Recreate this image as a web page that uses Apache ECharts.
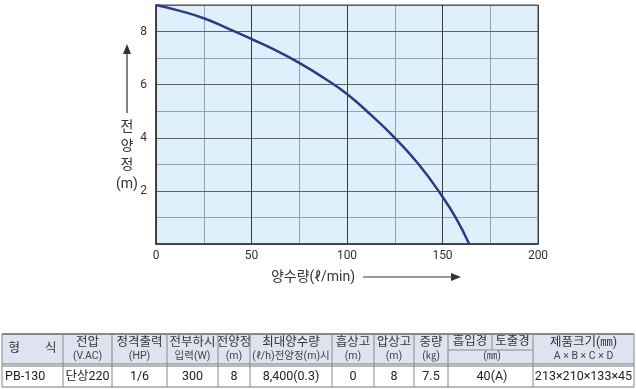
<!DOCTYPE html>
<html><head><meta charset="utf-8">
<script src="https://cdn.jsdelivr.net/npm/echarts@6/dist/echarts.min.js"></script>
<style>html,body{margin:0;padding:0;background:#fff}#c{width:636px;height:389px}</style>
</head><body><div id="c"></div>
<script>
// ---- data ----
const flow = [0, 12.5, 25, 37.5, 50, 62.5, 75, 87.5, 100, 112.5, 125, 137.5, 150, 157, 164];
const head = [9, 8.78, 8.5, 8.12, 7.72, 7.3, 6.82, 6.27, 5.65, 4.86, 4.0, 3.0, 1.78, 0.98, 0];
const xTicks = [0, 50, 100, 150, 200];
const yTicks = [2, 4, 6, 8];
const headerMain = ['형　　식', '전압', '정격출력', '전부하시', '전양정', '최대양수량', '흡상고', '압상고', '중량', '흡입경', '토출경', '제품크기(㎜)'];
const headerSub = ['', '(V.AC)', '(HP)', '입력(W)', '(m)', '(ℓ/h)전양정(m)시', '(m)', '(m)', '(㎏)', '(㎜)', '', 'A × B × C × D'];
const rowValues = ['PB-130', '단상220', '1/6', '300', '8', '8,400(0.3)', '0', '8', '7.5', '40(A)', '', '213×210×133×45'];

// ---- layout ----
const FONT = 'Roboto, "Noto Sans CJK KR", sans-serif';
const colEdges = [2, 63, 112, 167, 218, 250, 332, 374, 414, 448, 492, 533, 634];
const tTop = 334, tMid = 364, tBot = 387;

const chart = echarts.init(document.getElementById('c'));
const g = [];
// axis names + arrows
g.push({type:'text', style:{text:'전\n양\n정\n(m)', x:127, y:118, align:'center', verticalAlign:'top', lineHeight:19, fill:'#333', font:'14px ' + FONT}});
g.push({type:'line', shape:{x1:127, y1:113, x2:127, y2:52}, style:{stroke:'#333', lineWidth:1.2}});
g.push({type:'polygon', shape:{points:[[127,44],[123,54],[131,54]]}, style:{fill:'#333'}});
g.push({type:'text', style:{text:'양수량(ℓ/min)', x:313, y:277, align:'center', verticalAlign:'middle', fill:'#333', font:'14px ' + FONT}});
g.push({type:'line', shape:{x1:363, y1:277, x2:452, y2:277}, style:{stroke:'#333', lineWidth:1.2}});
g.push({type:'polygon', shape:{points:[[461,277],[451,273],[451,281]]}, style:{fill:'#333'}});

// table
g.push({type:'rect', shape:{x:colEdges[0], y:tTop, width:colEdges[12]-colEdges[0], height:tMid-tTop}, style:{fill:'#dde4ef'}});
const cx = i => (colEdges[i] + colEdges[i+1]) / 2;
const HF = '12.5px ' + FONT, SF = '10.5px ' + FONT, DF = '12.5px ' + FONT;
for (let i = 0; i < headerMain.length; i++) {
  if (i === 0) {
    g.push({type:'text', style:{text:headerMain[i], x:cx(i), y:(tTop+tMid)/2, align:'center', verticalAlign:'middle', fill:'#333', font:HF}});
  } else if (i === 9 || i === 10) {
    g.push({type:'text', style:{text:headerMain[i], x:cx(i), y:tTop+7.5, align:'center', verticalAlign:'middle', fill:'#333', font:HF}});
  } else {
    g.push({type:'text', style:{text:headerMain[i], x:cx(i), y:tTop+8.5, align:'center', verticalAlign:'middle', fill:'#333', font:HF}});
    g.push({type:'text', style:{text:headerSub[i], x:cx(i), y:tTop+22, align:'center', verticalAlign:'middle', fill:'#444', font:SF}});
  }
}
g.push({type:'text', style:{text:headerSub[9], x:colEdges[10], y:tTop+22, align:'center', verticalAlign:'middle', fill:'#444', font:SF}});
for (let i = 0; i < rowValues.length; i++) {
  if (i === 10) continue;
  let x = cx(i), align = 'center';
  if (i === 0) { x = colEdges[0] + 3; align = 'left'; }
  if (i === 9) x = colEdges[10];
  g.push({type:'text', style:{text:rowValues[i], x:x, y:(tMid+tBot)/2+1, align:align, verticalAlign:'middle', fill:'#222', font:DF}});
}
// borders
g.push({type:'line', shape:{x1:colEdges[0], y1:tTop, x2:colEdges[12], y2:tTop}, style:{stroke:'#666', lineWidth:1.5}});
g.push({type:'line', shape:{x1:colEdges[0], y1:tMid, x2:colEdges[12], y2:tMid}, style:{stroke:'#777', lineWidth:1}});
g.push({type:'line', shape:{x1:colEdges[0], y1:tMid+2, x2:colEdges[12], y2:tMid+2}, style:{stroke:'#777', lineWidth:1}});
g.push({type:'line', shape:{x1:colEdges[0], y1:tBot, x2:colEdges[12], y2:tBot}, style:{stroke:'#777', lineWidth:1}});
g.push({type:'line', shape:{x1:colEdges[9], y1:(tTop+tMid)/2+1, x2:colEdges[11], y2:(tTop+tMid)/2+1}, style:{stroke:'#888', lineWidth:1}});
for (let i = 0; i < colEdges.length; i++) {
  const isInner = i === 10;
  g.push({type:'line', shape:{x1:colEdges[i], y1:tTop, x2:colEdges[i], y2:isInner ? (tTop+tMid)/2+1 : tBot}, style:{stroke:'#888', lineWidth:1}});
}

const minorLine = {show:true, lineStyle:{color:'#93a2ad', width:1}};
chart.setOption({
  animation: false,
  textStyle: {fontFamily: FONT},
  grid: {left:156, right:98, top:5, bottom:145, show:true, backgroundColor:'#def0fb', borderColor:'#444', borderWidth:1},
  xAxis: [{
    type:'value', min:0, max:200, interval:50, z:3,
    axisLine:{show:true, lineStyle:{color:'#333', width:1.5}},
    axisTick:{show:false},
    axisLabel:{color:'#333', fontSize:12, margin:6, formatter: v => xTicks.includes(v) ? String(v) : ''},
    splitLine:{show:true, lineStyle:{color:'#3a3a3a', width:1}}
  }, {
    type:'value', min:0, max:200, interval:25, position:'top', z:1,
    axisLine:{show:false}, axisTick:{show:false}, axisLabel:{show:false},
    splitLine: minorLine
  }],
  yAxis: [{
    type:'value', min:0, max:9, interval:2, z:3,
    axisLine:{show:true, lineStyle:{color:'#333', width:1.5}},
    axisTick:{show:false},
    axisLabel:{color:'#333', fontSize:12, margin:9, formatter: v => yTicks.includes(v) ? String(v) : ''},
    splitLine:{show:true, lineStyle:{color:'#5e6266', width:1}}
  }, {
    type:'value', min:0, max:9, interval:1, position:'right', z:1,
    axisLine:{show:false}, axisTick:{show:false}, axisLabel:{show:false},
    splitLine: minorLine
  }],
  series: [{
    type:'line', smooth:0.5, symbol:'none', xAxisIndex:0, yAxisIndex:0, z:5,
    data: flow.map((f, i) => [f, head[i]]),
    lineStyle:{color:'#2e3a86', width:2.5}
  }],
  graphic: g
});
</script></body></html>
